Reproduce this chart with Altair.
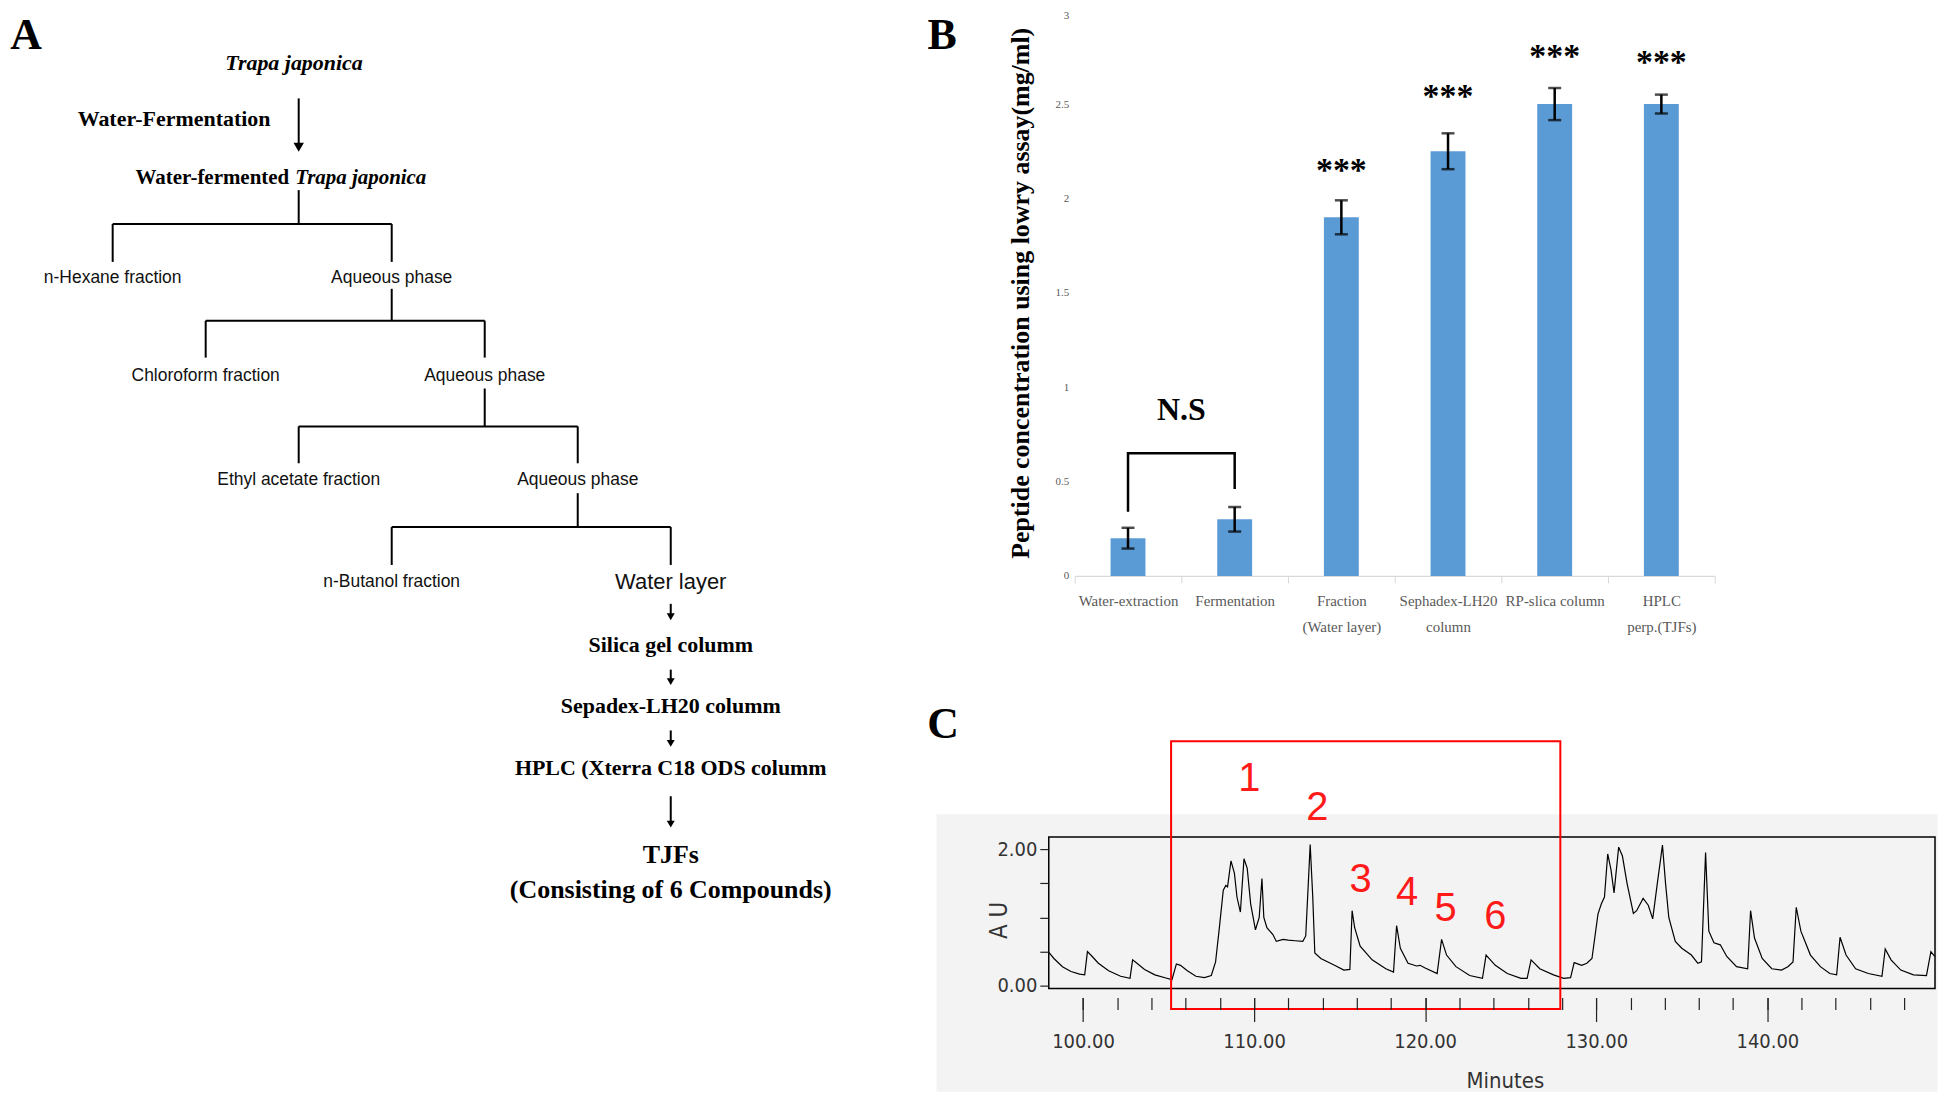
import altair as alt
import pandas as pd

SERIF = "Liberation Serif, Times New Roman, serif"
SANS = "Liberation Sans, Arial, sans-serif"
NARROW = "Liberation Sans Narrow, Arial Narrow, DejaVu Sans Condensed, Liberation Sans, sans-serif"

# ======================= Panel A : fractionation scheme =======================
a_title_text = ["Trapa japonica"]
a_method_text = ["Water-Fermentation"]
a_product_parts = ["Water-fermented", "Trapa japonica"]

# staircase of liquid-liquid partitions (tree columns + rows)
a_split_parent_col = [2, 3, 4, 5]
a_split_left_col = [0, 1, 2, 3]
a_split_right_col = [3, 4, 5, 6]
a_split_row_top = [189, 288, 388, 493]
a_split_row_bar = [223, 320, 426, 527]
a_split_row_leg = [261, 357, 463, 565]
a_split_row_label = [277, 375, 480, 582]
a_left_labels = ["n-Hexane fraction", "Chloroform fraction", "Ethyl acetate fraction", "n-Butanol fraction"]
a_right_labels = ["Aqueous phase", "Aqueous phase", "Aqueous phase", "Water layer"]
a_right_sizes = [17.5, 17.5, 17.5, 22]

# column chromatography steps
a_steps = ["Silica gel columm", "Sepadex-LH20 columm", "HPLC (Xterra C18 ODS columm",
           "TJFs", "(Consisting of 6 Compounds)"]
a_step_rows = [645, 707, 769, 856, 891]
a_step_sizes = [22, 22, 22, 26, 26]
a_arrow_cols = [2, 6, 6, 6, 6]
a_arrow_start = [97, 604, 670, 731, 797]
a_arrow_head = [146, 617, 682, 744, 825]
a_arrow_head_size = [110, 64, 64, 64, 64]

# ======================= Panel B : Lowry assay bars ===========================
b_categories = ["Water-extraction", "Fermentation", "Fraction|(Water layer)",
                "Sephadex-LH20|column", "RP-slica column", "HPLC|perp.(TJFs)"]
b_values = [0.20, 0.30, 1.90, 2.25, 2.50, 2.50]
b_errors = [0.055, 0.065, 0.09, 0.095, 0.085, 0.05]
b_star_categories = ["Fraction|(Water layer)", "Sephadex-LH20|column", "RP-slica column", "HPLC|perp.(TJFs)"]
b_star_levels = [2.19, 2.58, 2.79, 2.76]
b_ns_level = 0.88
b_bracket_categories = ["Water-extraction", "Water-extraction", "Fermentation", "Fermentation"]
b_bracket_levels = [0.34, 0.65, 0.65, 0.46]
b_y_ticks = [0, 0.5, 1, 1.5, 2, 2.5, 3]

# ======================= Panel C : HPLC chromatogram ==========================
c_minutes = [97.97, 98.3, 98.8, 99.3, 99.8, 100.1, 100.26, 100.5, 100.9, 101.5, 102.2, 102.75,
             102.9, 103.1, 103.6, 104.2, 104.9, 105.2, 105.46, 105.7, 106.1, 106.6, 107.1, 107.5,
             107.75, 107.95, 108.2, 108.35, 108.45, 108.65, 108.85, 109.0, 109.2, 109.41, 109.6,
             109.8, 110.08, 110.3, 110.46, 110.57, 110.75, 111.1, 111.3, 111.7, 112.0, 112.4,
             112.85, 113.02, 113.17, 113.28, 113.43, 113.55, 113.9, 114.7, 115.25, 115.6, 115.73,
             115.88, 116.2, 116.9, 117.7, 118.15, 118.33, 118.55, 119.0, 119.5, 119.7, 120.0,
             120.7, 120.96, 121.25, 121.8, 122.6, 123.35, 123.56, 124.1, 124.8, 125.6, 125.96,
             126.19, 126.7, 127.5, 128.1, 128.5, 128.71, 129.15, 129.45, 129.75, 130.1, 130.3,
             130.48, 130.67, 130.86, 131.04, 131.31, 131.53, 131.8, 132.17, 132.36, 132.74,
             133.04, 133.3, 133.57, 133.87, 134.05, 134.24, 134.62, 135.0, 135.56, 135.94,
             136.15, 136.39, 136.58, 136.88, 137.25, 137.63, 138.2, 138.85, 139.02, 139.25,
             139.7, 140.26, 140.83, 141.2, 141.5, 141.69, 141.96, 142.52, 143.1, 143.65, 144.05,
             144.25, 144.6, 145.16, 145.9, 146.7, 146.89, 147.23, 147.8, 148.54, 149.3, 149.56,
             149.78]
c_au = [0.50, 0.40, 0.28, 0.21, 0.17, 0.16, 0.50, 0.44, 0.33, 0.22, 0.14, 0.11,
        0.38, 0.34, 0.24, 0.16, 0.11, 0.09, 0.32, 0.30, 0.22, 0.14, 0.12, 0.15,
        0.35, 0.80, 1.40, 1.47, 1.45, 1.83, 1.65, 1.30, 1.08, 1.86, 1.72,
        1.20, 0.82, 1.00, 1.57, 1.00, 0.85, 0.75, 0.65, 0.68, 0.67, 0.66,
        0.65, 0.73, 1.50, 2.07, 1.30, 0.48, 0.40, 0.30, 0.23, 0.24, 1.10,
        0.85, 0.58, 0.38, 0.25, 0.20, 0.88, 0.55, 0.33, 0.29, 0.30, 0.26,
        0.18, 0.68, 0.45, 0.28, 0.15, 0.11, 0.45, 0.30, 0.18, 0.11, 0.11,
        0.38, 0.25, 0.16, 0.11, 0.12, 0.34, 0.30, 0.33, 0.40, 1.05, 1.20,
        1.30, 1.93, 1.70, 1.36, 2.03, 1.90, 1.50, 1.06, 1.10, 1.28,
        1.18, 0.98, 1.50, 2.06, 1.50, 1.00, 0.65, 0.55, 0.45, 0.33,
        0.35, 1.95, 0.80, 0.63, 0.60, 0.43, 0.28, 0.25, 1.10, 0.70,
        0.40, 0.25, 0.23, 0.28, 0.35, 1.15, 0.80, 0.45, 0.28, 0.18, 0.16,
        0.71, 0.45, 0.25, 0.18, 0.14, 0.54, 0.38, 0.23, 0.16, 0.15, 0.50,
        0.43]
c_peak_labels = ["1", "2", "3", "4", "5", "6"]
c_peak_minutes = [109.72, 113.69, 116.22, 118.94, 121.2, 124.1]
c_peak_au = [3.02, 2.60, 1.555, 1.355, 1.13, 1.00]
c_box_minutes = [105.15, 127.9]
c_box_au = [-0.34, 3.58]
c_frame_minutes = [98.0, 149.8]
c_frame_au = [-0.04, 2.18]
c_view_au = [-0.10, 2.25]
c_panel_minutes = [91.44, 149.95]
c_panel_au = [-1.55, 2.51]
c_x_minor_ticks = list(range(98, 150, 2))
c_x_major_ticks = [100, 110, 120, 130, 140]
c_y_ticks = [0, 0.5, 1, 1.5, 2]

LETTER_SIZE = 44

# ============================== build panel A ================================
A_W, A_H = 910, 1080
A_TOP = 8
xA_scale = alt.Scale(domain=[-1.1254, 8.628], nice=False, zero=False)
yA_scale = alt.Scale(domain=[A_TOP + A_H, A_TOP], nice=False, zero=False)

segs = []
for p, l, r, t, b, g in zip(a_split_parent_col, a_split_left_col, a_split_right_col,
                            a_split_row_top, a_split_row_bar, a_split_row_leg):
    segs += [(p, t, p, b), (l, b, r, b), (l, b, l, g), (r, b, r, g)]
for c, s, h in zip(a_arrow_cols, a_arrow_start, a_arrow_head):
    segs.append((c, s, c, h))
dfSeg = pd.DataFrame(segs, columns=["x1", "y1", "x2", "y2"])

dfHead = pd.DataFrame({"col": a_arrow_cols, "y": a_arrow_head, "s": a_arrow_head_size})

bold_rows = [{"t": a_method_text[0], "col": 0.66, "y": 118, "fs": 22}]
for s, r, fs in zip(a_steps, a_step_rows, a_step_sizes):
    bold_rows.append({"t": s, "col": 6, "y": r, "fs": fs})
dfBold = pd.DataFrame(bold_rows)

dfItal = pd.DataFrame({"t": a_title_text, "col": [1.95], "y": [62], "fs": [22]})
dfProdL = pd.DataFrame({"t": [a_product_parts[0]], "col": [1.93], "y": [177]})
dfProdR = pd.DataFrame({"t": [a_product_parts[1]], "col": [1.93], "y": [177]})

sans_rows = []
for lab, c, y in zip(a_left_labels, a_split_left_col, a_split_row_label):
    sans_rows.append({"t": lab, "col": c, "y": y, "fs": 17.5})
for lab, c, y, fs in zip(a_right_labels, a_split_right_col, a_split_row_label, a_right_sizes):
    sans_rows.append({"t": lab, "col": c, "y": y, "fs": fs})
dfSans = pd.DataFrame(sans_rows)

dfLetterA = pd.DataFrame({"t": ["A"], "col": [-0.93], "y": [34]})


def ax(field):
    return alt.X(field, type="quantitative", scale=xA_scale, axis=None)


def ay(field):
    return alt.Y(field, type="quantitative", scale=yA_scale, axis=None)


a_lines = alt.Chart(dfSeg).mark_rule(color="black", strokeWidth=2).encode(
    x=ax("x1"), x2="x2:Q", y=ay("y1"), y2="y2:Q")
a_heads = alt.Chart(dfHead).mark_point(shape="triangle-down", filled=True, color="black",
                                       opacity=1).encode(
    x=ax("col"), y=ay("y"), size=alt.Size("s:Q", scale=None))
a_bold = alt.Chart(dfBold).mark_text(font=SERIF, fontWeight="bold", baseline="middle",
                                     color="black").encode(
    x=ax("col"), y=ay("y"), text="t:N", size=alt.Size("fs:Q", scale=None))
a_ital = alt.Chart(dfItal).mark_text(font=SERIF, fontWeight="bold", fontStyle="italic",
                                     baseline="middle", color="black").encode(
    x=ax("col"), y=ay("y"), text="t:N", size=alt.Size("fs:Q", scale=None))
a_prodL = alt.Chart(dfProdL).mark_text(font=SERIF, fontWeight="bold", fontSize=21,
                                       align="right", baseline="middle", dx=-3,
                                       color="black").encode(
    x=ax("col"), y=ay("y"), text="t:N")
a_prodR = alt.Chart(dfProdR).mark_text(font=SERIF, fontWeight="bold", fontStyle="italic",
                                       fontSize=21, align="left", baseline="middle", dx=3,
                                       color="black").encode(
    x=ax("col"), y=ay("y"), text="t:N")
a_sans = alt.Chart(dfSans).mark_text(font=SANS, baseline="middle", color="#111111").encode(
    x=ax("col"), y=ay("y"), text="t:N", size=alt.Size("fs:Q", scale=None))
a_letter = alt.Chart(dfLetterA).mark_text(font=SERIF, fontWeight="bold", fontSize=LETTER_SIZE,
                                          baseline="middle", color="black").encode(
    x=ax("col"), y=ay("y"), text="t:N")

panelA = alt.layer(a_lines, a_heads, a_bold, a_ital, a_prodL, a_prodR, a_sans, a_letter
                   ).properties(width=A_W, height=A_H)

# ============================== build panel B ================================
dfB = pd.DataFrame({"cat": b_categories, "value": b_values, "err": b_errors})
dfB["lo"] = dfB["value"] - dfB["err"]
dfB["hi"] = dfB["value"] + dfB["err"]

xB_scale = alt.Scale(domain=b_categories, paddingInner=0, paddingOuter=0)
yB_scale = alt.Scale(domain=[0, 3], nice=False, zero=True)

xB_axis = alt.Axis(labelAngle=0, labelExpr="split(datum.label, '|')", tickBand="extent",
                   domainColor="#d9d9d9", domainWidth=1.2, tickColor="#d9d9d9", tickSize=7,
                   labelFont=SERIF, labelFontSize=15, labelColor="#595959",
                   labelLineHeight=26, labelPadding=11, title=None)
yB_axis = alt.Axis(values=b_y_ticks, format=".1~f", domain=False, ticks=False, grid=False,
                   labelBaseline={"condition": {"test": "datum.value === 3", "value": "top"},
                                  "value": "middle"},
                   labelFont=SERIF, labelFontSize=11, labelColor="#595959", labelPadding=6,
                   title="Peptide concentration using lowry assay(mg/ml)",
                   titleFont=SERIF, titleFontWeight="bold", titleFontSize=26,
                   titleColor="black", titlePadding=22)

bx = alt.X("cat:N", scale=xB_scale, axis=xB_axis, title=None)

b_bars = alt.Chart(dfB).mark_bar(size=35, color="#5b9bd5").encode(
    x=bx, y=alt.Y("value:Q", scale=yB_scale, axis=yB_axis))
b_err = alt.Chart(dfB).mark_rule(color="black", strokeWidth=2.5).encode(
    x=alt.X("cat:N", scale=xB_scale), y=alt.Y("lo:Q", scale=yB_scale), y2="hi:Q")
b_cap_lo = alt.Chart(dfB).mark_tick(color="black", size=13, thickness=2.5).encode(
    x=alt.X("cat:N", scale=xB_scale), y=alt.Y("lo:Q", scale=yB_scale))
b_cap_hi = alt.Chart(dfB).mark_tick(color="black", size=13, thickness=2.5).encode(
    x=alt.X("cat:N", scale=xB_scale), y=alt.Y("hi:Q", scale=yB_scale))

dfStars = pd.DataFrame({"cat": b_star_categories, "level": b_star_levels})
b_stars = alt.Chart(dfStars).mark_text(font=SERIF, fontWeight="bold", fontSize=34,
                                       baseline="middle", dy=8, color="black").encode(
    x=alt.X("cat:N", scale=xB_scale), y=alt.Y("level:Q", scale=yB_scale),
    text=alt.value("***"))

dfBr = pd.DataFrame({"cat": b_bracket_categories, "level": b_bracket_levels,
                     "i": list(range(len(b_bracket_levels)))})
b_bracket = alt.Chart(dfBr).mark_line(color="black", strokeWidth=2.5).encode(
    x=alt.X("cat:N", scale=xB_scale), y=alt.Y("level:Q", scale=yB_scale), order="i:Q")

dfNS = pd.DataFrame({"cat": [b_categories[0]], "level": [b_ns_level], "t": ["N.S"]})
b_ns = alt.Chart(dfNS).mark_text(font=SERIF, fontWeight="bold", fontSize=32,
                                 baseline="middle", color="black").encode(
    x=alt.X("cat:N", scale=xB_scale, bandPosition=1),
    y=alt.Y("level:Q", scale=yB_scale), text="t:N")

b_letter = alt.Chart(pd.DataFrame({"t": ["B"]})).mark_text(
    font=SERIF, fontWeight="bold", fontSize=LETTER_SIZE, baseline="middle", color="black").encode(
    x=alt.value(-133), y=alt.value(26), text="t:N")

panelB = alt.layer(b_bars, b_err, b_cap_lo, b_cap_hi, b_stars, b_bracket, b_ns, b_letter
                   ).properties(width=642, height=568)

# ============================== build panel C ================================
# the view is aligned with panel B's plot edge; the chromatogram frame starts
# C_SHIFT px further left, so the visible x-domain of the view starts a bit later
C_W, C_SHIFT = 863, 26
px_per_min = (C_W + C_SHIFT) / (c_frame_minutes[1] - c_frame_minutes[0])
view_x_domain = [c_frame_minutes[0] + C_SHIFT / px_per_min, c_frame_minutes[1]]
xC_scale = alt.Scale(domain=view_x_domain, nice=False, zero=False)
yC_scale = alt.Scale(domain=c_view_au, nice=False, zero=False)

xC_minor_axis = alt.Axis(orient="bottom", values=c_x_minor_ticks, labels=False, tickSize=12,
                         tickColor="#222222", tickWidth=1.2, offset=5, domain=False,
                         grid=False, zindex=1, title=None)
xC_major_axis = alt.Axis(orient="bottom", values=c_x_major_ticks, format=".2f", tickSize=24,
                         tickColor="#222222", tickWidth=1.2, offset=5, domain=False,
                         grid=False, zindex=1, labelFont=NARROW, labelFontSize=20,
                         labelColor="#333333", labelPadding=10, labelOverlap=False,
                         title="Minutes", titleFont=NARROW, titleFontSize=22,
                         titleFontWeight="normal", titleColor="#333333", titlePadding=19)
yC_axis = alt.Axis(values=c_y_ticks, offset=C_SHIFT,
                   labelExpr="datum.value === 0 || datum.value === 2 ? format(datum.value, '.2f') : ''",
                   tickSize=9, tickColor="#222222", tickWidth=1.2, domain=False, grid=False,
                   zindex=1, labelFont=NARROW, labelFontSize=20, labelColor="#333333",
                   labelPadding=3, labelOverlap=False, title="A U", titleFont=NARROW,
                   titleFontSize=24, titleFontWeight="normal", titleColor="#333333",
                   titleX=-49, titleY=88, titleBaseline="middle")

dfPanel = pd.DataFrame({"x0": [c_panel_minutes[0]], "x1": [c_panel_minutes[1]],
                        "y0": [c_panel_au[0]], "y1": [c_panel_au[1]]})
c_bg = alt.Chart(dfPanel).mark_rect(color="#f3f3f3").encode(
    x=alt.X("x0:Q", scale=xC_scale, axis=xC_minor_axis), x2="x1:Q",
    y=alt.Y("y0:Q", scale=yC_scale), y2="y1:Q")

dfFrame = pd.DataFrame({"x0": [c_frame_minutes[0]], "x1": [c_frame_minutes[1]],
                        "y0": [c_frame_au[0]], "y1": [c_frame_au[1]]})
c_frame = alt.Chart(dfFrame).mark_rect(fillOpacity=0, stroke="black", strokeWidth=1.5).encode(
    x=alt.X("x0:Q", scale=xC_scale, axis=None), x2="x1:Q",
    y=alt.Y("y0:Q", scale=yC_scale), y2="y1:Q")

dfTrace = pd.DataFrame({"minute": c_minutes, "au": c_au})
c_line = alt.Chart(dfTrace).mark_line(color="black", strokeWidth=1.2).encode(
    x=alt.X("minute:Q", scale=xC_scale, axis=xC_major_axis),
    y=alt.Y("au:Q", scale=yC_scale, axis=yC_axis))

dfBox = pd.DataFrame({"x0": [c_box_minutes[0]], "x1": [c_box_minutes[1]],
                      "y0": [c_box_au[0]], "y1": [c_box_au[1]]})
c_box = alt.Chart(dfBox).mark_rect(fillOpacity=0, stroke="#ff0000", strokeWidth=2).encode(
    x=alt.X("x0:Q", scale=xC_scale, axis=None), x2="x1:Q",
    y=alt.Y("y0:Q", scale=yC_scale), y2="y1:Q")

dfPeaks = pd.DataFrame({"t": c_peak_labels, "minute": c_peak_minutes, "au": c_peak_au})
c_peaks = alt.Chart(dfPeaks).mark_text(font=SANS, fontSize=40, baseline="middle",
                                       color="#ff1a1a").encode(
    x=alt.X("minute:Q", scale=xC_scale, axis=None), y=alt.Y("au:Q", scale=yC_scale),
    text="t:N")

c_letter = alt.Chart(pd.DataFrame({"t": ["C"]})).mark_text(
    font=SERIF, fontWeight="bold", fontSize=LETTER_SIZE, baseline="middle", color="black").encode(
    x=alt.value(-132), y=alt.value(-107), text="t:N")

panelC = alt.layer(c_bg, c_frame, c_line, c_box, c_peaks, c_letter
                   ).resolve_axis(x="independent").properties(width=C_W, height=161)

# ============================== assemble ====================================
right = alt.concat(panelB, panelC, columns=1, spacing=69, align="none")
chart = alt.concat(panelA, right, columns=2, spacing=12, align="none"
                   ).properties(padding=0).configure_view(stroke=None).configure_axis(grid=False)

chart.save("out.html", embed_options={"renderer": "svg", "actions": False})
